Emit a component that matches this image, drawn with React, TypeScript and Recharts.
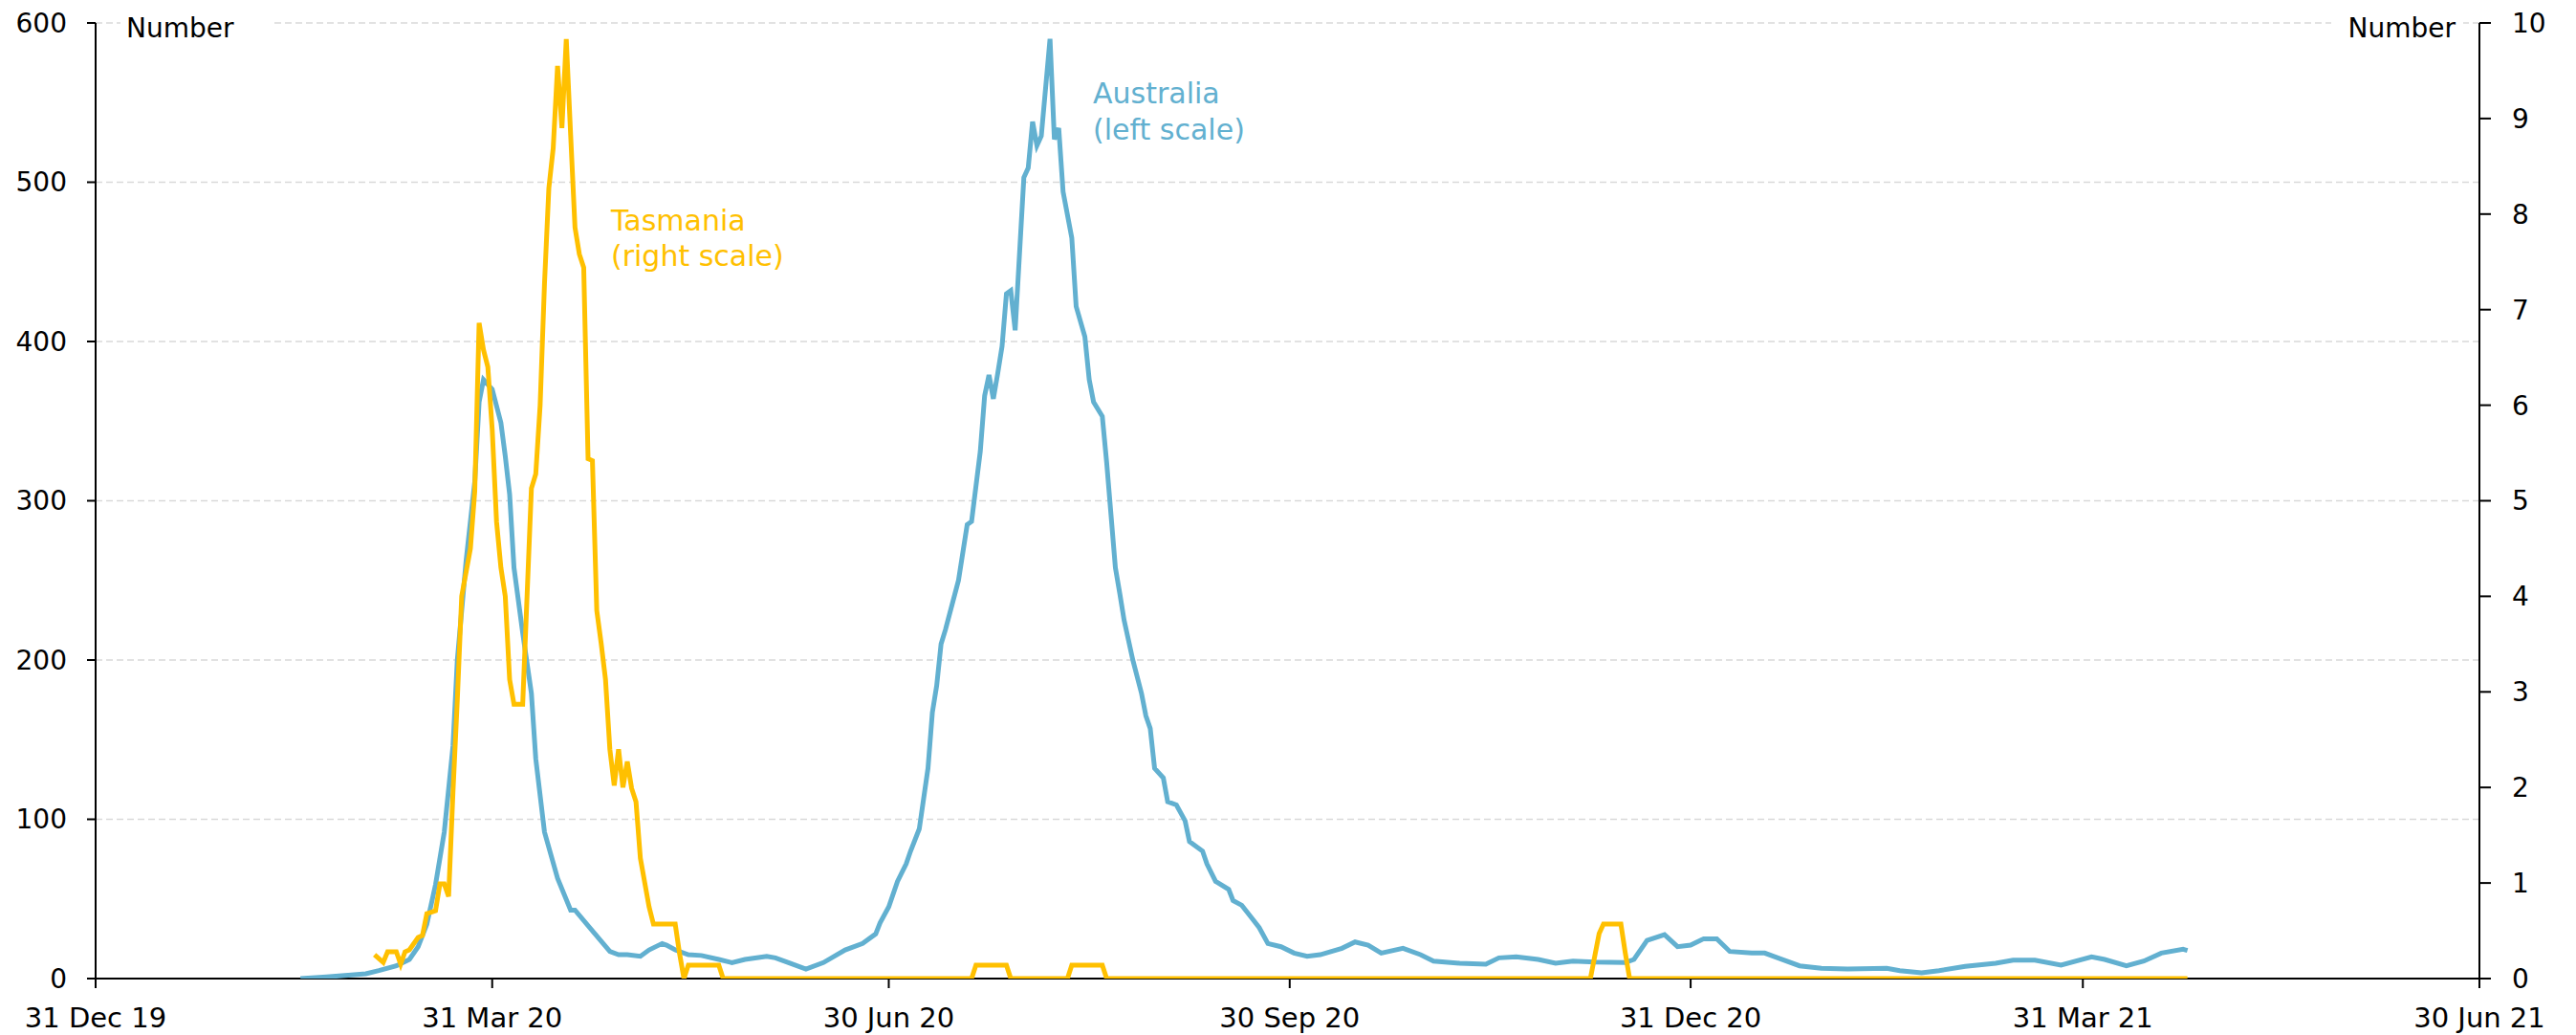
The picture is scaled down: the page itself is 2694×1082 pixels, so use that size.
import React from 'react';
import { LineChart, Line, XAxis, YAxis, CartesianGrid } from 'recharts';

// 7-day average of new cases
const ausDates = [
  '2020-02-16', '2020-02-22', '2020-03-02', '2020-03-05', '2020-03-09', '2020-03-12', '2020-03-14',
  '2020-03-16', '2020-03-18', '2020-03-20', '2020-03-22', '2020-03-23', '2020-03-25', '2020-03-27',
  '2020-03-28', '2020-03-29', '2020-03-31', '2020-04-02', '2020-04-03', '2020-04-04', '2020-04-05',
  '2020-04-07', '2020-04-09', '2020-04-10', '2020-04-12', '2020-04-15', '2020-04-18', '2020-04-19',
  '2020-04-23', '2020-04-27', '2020-04-29', '2020-05-01', '2020-05-04', '2020-05-06', '2020-05-09',
  '2020-05-10', '2020-05-12', '2020-05-15', '2020-05-18', '2020-05-22', '2020-05-25', '2020-05-28',
  '2020-06-02', '2020-06-04', '2020-06-07', '2020-06-11', '2020-06-15', '2020-06-20', '2020-06-24',
  '2020-06-27', '2020-06-28', '2020-06-30', '2020-07-02', '2020-07-04', '2020-07-05', '2020-07-07',
  '2020-07-08', '2020-07-09', '2020-07-10', '2020-07-11', '2020-07-12', '2020-07-13', '2020-07-16',
  '2020-07-18', '2020-07-19', '2020-07-21', '2020-07-22', '2020-07-23', '2020-07-24', '2020-07-25',
  '2020-07-26', '2020-07-27', '2020-07-28', '2020-07-29', '2020-07-31', '2020-08-01', '2020-08-02',
  '2020-08-03', '2020-08-04', '2020-08-06', '2020-08-07', '2020-08-08', '2020-08-09', '2020-08-11',
  '2020-08-12', '2020-08-14', '2020-08-15', '2020-08-16', '2020-08-18', '2020-08-19', '2020-08-21',
  '2020-08-22', '2020-08-23', '2020-08-25', '2020-08-27', '2020-08-28', '2020-08-29', '2020-08-30',
  '2020-09-01', '2020-09-02', '2020-09-04', '2020-09-06', '2020-09-07', '2020-09-10', '2020-09-11',
  '2020-09-13', '2020-09-16', '2020-09-17', '2020-09-19', '2020-09-21', '2020-09-23', '2020-09-25',
  '2020-09-28', '2020-10-01', '2020-10-04', '2020-10-07', '2020-10-12', '2020-10-15', '2020-10-18',
  '2020-10-21', '2020-10-26', '2020-10-30', '2020-11-02', '2020-11-08', '2020-11-14', '2020-11-17',
  '2020-11-21', '2020-11-26', '2020-11-30', '2020-12-04', '2020-12-09', '2020-12-16', '2020-12-18',
  '2020-12-21', '2020-12-25', '2020-12-28', '2020-12-31', '2021-01-03', '2021-01-06', '2021-01-09',
  '2021-01-14', '2021-01-17', '2021-01-20', '2021-01-25', '2021-01-30', '2021-02-05', '2021-02-14',
  '2021-02-17', '2021-02-22', '2021-02-26', '2021-03-04', '2021-03-11', '2021-03-15', '2021-03-20',
  '2021-03-26', '2021-04-02', '2021-04-05', '2021-04-10', '2021-04-14', '2021-04-18', '2021-04-23',
  '2021-04-24',
];
const ausCases = [
  0, 1, 3, 5, 8, 12, 20,
  34, 59, 92, 146, 200, 262, 312,
  362, 376, 370, 349, 328, 304, 258,
  217, 179, 138, 92, 63, 43, 43,
  30, 17, 15, 15, 14, 18, 22,
  21, 18, 15, 14.5, 12, 10, 12,
  14, 13, 10, 6, 10, 18, 22,
  28, 35, 45, 61, 72, 80, 94,
  113, 132, 167, 184, 210, 219, 250,
  285, 287, 331, 366, 379, 364, 380,
  397, 430, 432, 407, 503, 509, 538,
  523, 529, 590, 527, 534, 494, 465,
  422, 403, 376, 362, 353, 324, 258,
  242, 225, 200, 179, 165, 157, 132,
  126, 111, 109, 99, 86, 80, 72,
  61, 56, 49, 46, 39, 32, 22,
  20, 16, 14, 15, 19, 23, 21,
  16, 19, 15, 11, 9.6, 9, 13,
  13.6, 12, 9.6, 11, 10.4, 10, 12,
  24, 27.6, 20, 21, 25, 25, 17,
  16, 16, 13, 8, 6.4, 6, 6.4,
  5, 3.6, 5, 7.6, 9.6, 11.6, 11.6,
  8.4, 13.6, 12, 8, 11, 16, 18.4,
  17.6,
];

const tasDates = [
  '2020-03-04', '2020-03-06', '2020-03-07', '2020-03-09', '2020-03-10', '2020-03-11', '2020-03-12',
  '2020-03-14', '2020-03-15', '2020-03-16', '2020-03-18', '2020-03-19', '2020-03-20', '2020-03-21',
  '2020-03-22', '2020-03-23', '2020-03-24', '2020-03-26', '2020-03-27', '2020-03-28', '2020-03-29',
  '2020-03-30', '2020-03-31', '2020-04-01', '2020-04-02', '2020-04-03', '2020-04-04', '2020-04-05',
  '2020-04-07', '2020-04-09', '2020-04-10', '2020-04-11', '2020-04-12', '2020-04-13', '2020-04-14',
  '2020-04-15', '2020-04-16', '2020-04-17', '2020-04-18', '2020-04-19', '2020-04-20', '2020-04-21',
  '2020-04-22', '2020-04-23', '2020-04-24', '2020-04-25', '2020-04-26', '2020-04-27', '2020-04-28',
  '2020-04-29', '2020-04-30', '2020-05-01', '2020-05-02', '2020-05-03', '2020-05-04', '2020-05-06',
  '2020-05-07', '2020-05-12', '2020-05-13', '2020-05-14', '2020-05-15', '2020-05-22', '2020-05-23',
  '2020-07-19', '2020-07-20', '2020-07-27', '2020-07-28', '2020-08-10', '2020-08-11', '2020-08-18',
  '2020-08-19', '2020-12-08', '2020-12-10', '2020-12-11', '2020-12-15', '2020-12-16', '2020-12-17',
  '2021-04-24',
];
const tasCases = [
  0.25, 0.17, 0.28, 0.28, 0.15, 0.28, 0.3,
  0.43, 0.45, 0.68, 0.71, 0.99, 0.99, 0.86,
  1.95, 2.92, 4.0, 4.5, 5.1, 6.86, 6.58,
  6.4, 5.75, 4.78, 4.3, 4.0, 3.13, 2.87,
  2.87, 5.13, 5.28, 6.0, 7.27, 8.27, 8.69,
  9.55, 8.9, 9.83, 8.83, 7.86, 7.58, 7.44,
  5.44, 5.42, 3.85, 3.51, 3.13, 2.4, 2.02,
  2.4, 2.0, 2.27, 1.99, 1.85, 1.26, 0.75,
  0.57, 0.57, 0.26, 0, 0.14, 0.14, 0,
  0, 0.14, 0.14, 0, 0, 0.14, 0.14,
  0, 0, 0.47, 0.57, 0.57, 0.27, 0,
  0,
];

const tickDates = ['2019-12-31', '2020-03-31', '2020-06-30', '2020-09-30', '2020-12-31', '2021-03-31', '2021-06-30'];
const tickLabels = ['31 Dec 19', '31 Mar 20', '30 Jun 20', '30 Sep 20', '31 Dec 20', '31 Mar 21', '30 Jun 21'];
const leftTicks = [0, 100, 200, 300, 400, 500, 600];
const rightTicks = [0, 1, 2, 3, 4, 5, 6, 7, 8, 9, 10];

const BLUE = '#62b0d0';
const GOLD = '#ffc000';
const FONT = "'DejaVu Sans', sans-serif";

const toTime = (d: string) => Date.parse(d + 'T00:00:00Z');
const ausData = ausDates.map((d, i) => ({ t: toTime(d), v: ausCases[i] }));
const tasData = tasDates.map((d, i) => ({ t: toTime(d), v: tasCases[i] }));
const tickTimes = tickDates.map(toTime);
const fmtDate = (t: number) => tickLabels[tickTimes.indexOf(t)] ?? '';

const W = 2694;
const H = 1082;

export default function App() {
  const tickStyle = { fill: '#000', fontSize: 28, fontFamily: FONT };
  const axisStyle = { stroke: '#000', strokeWidth: 2 };
  return (
    <div style={{ position: 'absolute', left: 0, top: 0, width: W, height: H, background: '#fff' }}>
      <LineChart width={W} height={H} margin={{ top: 24, right: 0, bottom: 0, left: 0 }}>
        <CartesianGrid yAxisId="left" vertical={false} stroke="#d9d9d9" strokeWidth={1.5} strokeDasharray="7 4" />
        <XAxis
          type="number"
          dataKey="t"
          domain={[tickTimes[0], tickTimes[tickTimes.length - 1]]}
          ticks={tickTimes}
          interval={0}
          tickFormatter={fmtDate}
          height={59}
          tickSize={10}
          tickMargin={20}
          tick={{ ...tickStyle, fontSize: 29 }}
          axisLine={axisStyle}
          tickLine={axisStyle}
          allowDataOverflow
        />
        <YAxis
          yAxisId="left"
          domain={[0, 600]}
          ticks={leftTicks}
          interval={0}
          width={100}
          tickSize={9}
          tickMargin={21}
          tick={tickStyle}
          axisLine={axisStyle}
          tickLine={axisStyle}
          allowDataOverflow
        />
        <YAxis
          yAxisId="right"
          orientation="right"
          domain={[0, 10]}
          ticks={rightTicks}
          interval={0}
          width={101}
          tickSize={12}
          tickMargin={22}
          tick={{ ...tickStyle, textAnchor: 'start' }}
          axisLine={axisStyle}
          tickLine={axisStyle}
          allowDataOverflow
        />
        <Line
          yAxisId="left"
          data={ausData}
          dataKey="v"
          type="linear"
          stroke={BLUE}
          strokeWidth={5}
          dot={false}
          activeDot={false}
          isAnimationActive={false}
          zIndex={600}
        />
        <Line
          yAxisId="right"
          data={tasData}
          dataKey="v"
          type="linear"
          stroke={GOLD}
          strokeWidth={5}
          dot={false}
          activeDot={false}
          isAnimationActive={false}
          zIndex={650}
        />
      </LineChart>

      {/* axis titles and series labels */}
      <svg width={W} height={H} style={{ position: 'absolute', left: 0, top: 0, pointerEvents: 'none' }}>
        <rect x={126} y={8} width={158} height={34} fill="#fff" />
        <rect x={2438} y={8} width={138} height={34} fill="#fff" />
        <text x={132} y={39} fontSize={28} fontFamily={FONT} fill="#000">Number</text>
        <text x={2568} y={39} fontSize={28} fontFamily={FONT} fill="#000" textAnchor="end">Number</text>
        <text fontSize={30} fontFamily={FONT} fill={GOLD}>
          <tspan x={639} y={241}>Tasmania</tspan>
          <tspan x={639} y={278}>(right scale)</tspan>
        </text>
        <text fontSize={30} fontFamily={FONT} fill={BLUE}>
          <tspan x={1143} y={108}>Australia</tspan>
          <tspan x={1143} y={146}>(left scale)</tspan>
        </text>
      </svg>
    </div>
  );
}
